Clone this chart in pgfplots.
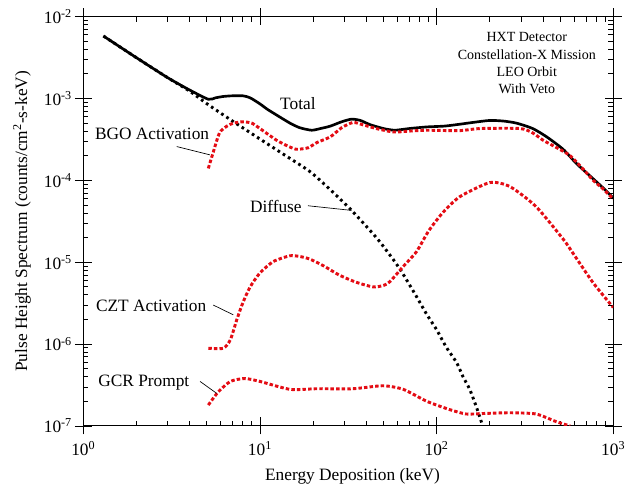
\documentclass[border=0pt]{standalone}
\usepackage{fontspec}
\setmainfont{Liberation Serif}
\usepackage{pgfplots}
\pgfplotsset{compat=1.18}
\definecolor{dotred}{RGB}{228,12,20}

\begin{document}
\begin{tikzpicture}
% major ticks crossing the frame
\begin{loglogaxis}[
  scale only axis,
  width=397.5pt, height=307pt,
  xmin=1, xmax=1000, ymin=1e-7, ymax=1e-2,
  axis line style={line width=0.8pt},
  every tick/.style={black, line width=0.6pt},
  xtick={1,10,100,1000},
  ytick={1e-7,1e-6,1e-5,1e-4,1e-3,1e-2},
  tick align=center, major tick length=12.75pt, minor tick length=0pt,
  xticklabels={}, yticklabels={},
]
\end{loglogaxis}
\begin{loglogaxis}[
  scale only axis,
  width=397.5pt, height=307pt,
  xmin=1, xmax=1000, ymin=1e-7, ymax=1e-2,
  axis line style={line width=0.8pt},
  every tick/.style={black, line width=0.6pt},
  xtick={1,10,100,1000},
  ytick={1e-7,1e-6,1e-5,1e-4,1e-3,1e-2},
  tick align=inside,
  major tick length=0pt, minor tick length=3.75pt,
  xticklabels={10\textsuperscript{0},10\textsuperscript{1},10\textsuperscript{2},10\textsuperscript{3}},
  yticklabels={10\textsuperscript{-7},10\textsuperscript{-6},10\textsuperscript{-5},10\textsuperscript{-4},10\textsuperscript{-3},10\textsuperscript{-2}},
  tick label style={font=\fontsize{13}{15}\selectfont},
  xticklabel style={yshift=-8pt},
  yticklabel style={xshift=-5pt},
  xlabel={Energy Deposition (keV)},
  ylabel={Pulse Height Spectrum (counts/cm\textsuperscript{2}-s-keV)},
  label style={font=\fontsize{13}{15}\selectfont},
  xlabel style={at={(axis description cs:0.508,-0.122)}, anchor=center},
  ylabel style={at={(axis description cs:-0.1157,0.5)}, anchor=center},
]
% Total
\addplot[black, line width=2pt, smooth, tension=0.4] coordinates {
  (1.3,5.8e-3) (2,3.15e-3) (3,1.8e-3) (4,1.27e-3) (5.1,9.8e-4) (5.6,1.02e-3)
  (6.2,1.06e-3) (7,1.08e-3) (8,1.08e-3) (8.8,1.02e-3) (10,8.6e-4) (11,7.4e-4)
  (12.4,6.3e-4) (14.8,5.0e-4) (16.8,4.4e-4) (19.6,4.1e-4) (22,4.3e-4) (25,4.6e-4)
  (29,5.2e-4) (33,5.6e-4) (37,5.4e-4) (42,4.8e-4) (50,4.3e-4) (58,4.1e-4)
  (70,4.3e-4) (88,4.5e-4) (110,4.6e-4) (130,4.8e-4) (160,5.1e-4) (200,5.4e-4)
  (240,5.3e-4) (284,5.0e-4) (350,4.3e-4) (420,3.4e-4) (520,2.4e-4) (620,1.6e-4)
  (750,1.1e-4) (870,8.2e-5) (1000,6.1e-5)
};
% Diffuse
\addplot[black, line width=2.2pt, dash pattern=on 2pt off 2.6pt, smooth, tension=0.4] coordinates {
  (1.3,5.8e-3) (2,3.15e-3) (3,1.8e-3) (4,1.23e-3) (5.1,8.4e-4) (7,5.3e-4)
  (10,3.2e-4) (14,2.0e-4) (19.2,1.28e-4) (25,7.7e-5) (33,4.3e-5) (45.6,2.0e-5)
  (57,1.07e-5) (64,7.4e-6) (77,3.8e-6) (88,2.3e-6) (100,1.5e-6) (113,9.3e-7)
  (130,5.9e-7) (141,4.0e-7) (154,2.8e-7) (168,1.7e-7) (181,1.05e-7)
};
% BGO Activation
\addplot[dotred, line width=2.2pt, dash pattern=on 2.6pt off 1.6pt, smooth, tension=0.4] coordinates {
  (5.1,1.4e-4) (5.4,2.1e-4) (5.9,3.8e-4) (6.5,4.6e-4) (7.07,5.0e-4) (8,5.2e-4)
  (9,5.0e-4) (10,4.3e-4) (12.4,3.1e-4) (14.5,2.6e-4) (16.1,2.4e-4) (18.7,2.5e-4)
  (21,2.9e-4) (25,3.4e-4) (29,4.4e-4) (33.6,5.1e-4) (38,4.8e-4) (45.5,4.3e-4)
  (57,3.9e-4) (70,4.0e-4) (88,4.1e-4) (135,4.05e-4) (176,4.3e-4) (297,4.3e-4)
  (350,3.8e-4) (400,3.1e-4) (480,2.5e-4) (570,2.0e-4) (680,1.35e-4) (770,1.0e-4)
  (880,7.8e-5) (1000,5.9e-5)
};
% CZT Activation
\addplot[dotred, line width=2.2pt, dash pattern=on 2.6pt off 1.6pt, smooth, tension=0.4] coordinates {
  (5.1,8.9e-7) (6.2,8.9e-7) (6.8,1.13e-6) (7.4,2.0e-6) (8.0,3.2e-6) (8.8,5.0e-6)
  (10,7.4e-6) (11.9,1.02e-5) (14.8,1.2e-5) (17,1.17e-5) (19.2,1.09e-5) (23,9e-6)
  (28,7.0e-6) (35,5.7e-6) (43.6,5.0e-6) (50,5.2e-6) (54.4,5.8e-6) (64.8,8.9e-6)
  (77,1.35e-5) (90,2.4e-5) (108,4.0e-5) (135,6.3e-5) (200,9.4e-5) (260,8.4e-5)
  (365,4.8e-5) (522,1.9e-5) (590,1.3e-5) (770,5.6e-6) (1000,2.8e-6)
};
% GCR Prompt
\addplot[dotred, line width=2.2pt, dash pattern=on 2.6pt off 1.6pt, smooth, tension=0.4] coordinates {
  (5.1,1.8e-7) (5.8,2.6e-7) (6.8,3.5e-7) (8.2,3.8e-7) (10,3.5e-7) (14.8,2.8e-7)
  (21,2.85e-7) (33.6,2.85e-7) (49.6,3.1e-7) (64.8,2.8e-7) (88,2.0e-7) (119,1.58e-7)
  (147,1.4e-7) (184,1.42e-7) (260,1.45e-7) (365,1.4e-7) (475,1.13e-7) (570,1.0e-7)
};
% labels and leaders
\node[font=\fontsize{13}{15}\selectfont] at (axis cs:16.4,8.8e-4) {Total};
\node[font=\fontsize{13}{15}\selectfont] at (axis cs:2.45,3.7e-4) {BGO Activation};
\draw[line width=0.5pt] (axis cs:3.38,2.59e-4) -- (axis cs:5.21,2.05e-4);
\node[font=\fontsize{13}{15}\selectfont] at (axis cs:12.3,4.8e-5) {Diffuse};
\draw[line width=0.5pt] (axis cs:18.7,4.9e-5) -- (axis cs:33,4.3e-5);
\node[font=\fontsize{13}{15}\selectfont] at (axis cs:2.42,2.9e-6) {CZT Activation};
\draw[line width=0.5pt] (axis cs:5.44,3.0e-6) -- (axis cs:7.06,2.28e-6);
\node[font=\fontsize{13}{15}\selectfont] at (axis cs:2.2,3.4e-7) {GCR Prompt};
\draw[line width=0.5pt] (axis cs:4.58,3.5e-7) -- (axis cs:5.69,2.5e-7);
\node[align=center, font=\fontsize{10.5}{13}\selectfont] at (axis cs:324,2.7e-3)
  {HXT Detector\\Constellation-X Mission\\LEO Orbit\\With Veto};
\coordinate (ll) at (rel axis cs:0,0);
\coordinate (ur) at (rel axis cs:1,1);
\end{loglogaxis}
\pgfresetboundingbox
\path ([shift={(-62.5pt,-45pt)}]ll) rectangle ([shift={(14.8pt,12.5pt)}]ur);
\end{tikzpicture}
\end{document}
